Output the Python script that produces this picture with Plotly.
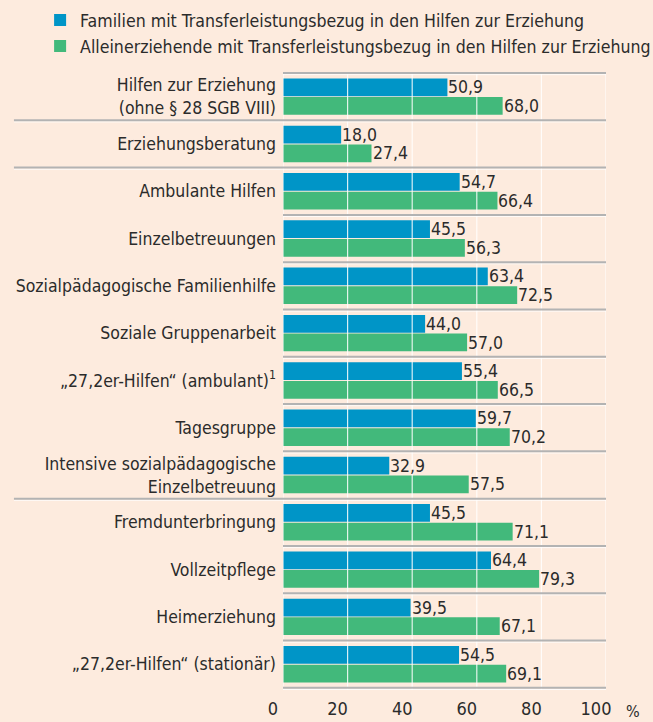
import plotly.graph_objects as go

# ── Data ───────────────────────────────────────────────────────────────
categories = [
    "Hilfen zur Erziehung<br>(ohne § 28 SGB VIII)",
    "Erziehungsberatung",
    "Ambulante Hilfen",
    "Einzelbetreuungen",
    "Sozialpädagogische Familienhilfe",
    "Soziale Gruppenarbeit",
    "„27,2er-Hilfen“ (ambulant)<sup>1</sup>",
    "Tagesgruppe",
    "Intensive sozialpädagogische<br>Einzelbetreuung",
    "Fremdunterbringung",
    "Vollzeitpflege",
    "Heimerziehung",
    "„27,2er-Hilfen“ (stationär)",
]
familien = [50.9, 18.0, 54.7, 45.5, 63.4, 44.0, 55.4, 59.7, 32.9, 45.5, 64.4, 39.5, 54.5]
alleinerziehende = [68.0, 27.4, 66.4, 56.3, 72.5, 57.0, 66.5, 70.2, 57.5, 71.1, 79.3, 67.1, 69.1]
series_names = [
    "Familien mit Transferleistungsbezug in den Hilfen zur Erziehung",
    "Alleinerziehende mit Transferleistungsbezug in den Hilfen zur Erziehung",
]
x_ticks = [0, 20, 40, 60, 80, 100]
# rows after which a full-width separator is drawn
major_breaks = [0, 1, 8]

BLUE = "#0095c7"
GREEN = "#42b97b"
BG = "#fdebde"
TEXT = "#2b2b2b"
SEP = "#b3b3b3"
FONT = "DejaVu Sans Condensed"


def de(v):
    return f"{v:.1f}".replace(".", ",")


fig = go.Figure()
series = [(series_names[0], familien, BLUE), (series_names[1], alleinerziehende, GREEN)]
for k, (name, vals, col) in enumerate(series):
    fig.add_trace(go.Bar(
        y=categories,
        x=vals,
        name=name,
        legendgroup=f"g{k}",
        orientation="h",
        marker=dict(color=col, line=dict(width=0)),
        hovertemplate="%{x:.1f}<extra></extra>",
    ))

# value labels as annotations so they sit above the white grid lines
annotations = []
for k, (name, vals, col) in enumerate(series):
    for cat, v in zip(categories, vals):
        annotations.append(dict(
            x=v, y=cat, xref="x", yref="y", text=de(v), showarrow=False,
            xanchor="left", yanchor="middle", xshift=-1,
            yshift=9.4 if k == 0 else -9.4,
            font=dict(family=FONT, size=17.5, color=TEXT),
        ))
annotations.append(dict(
    text="%", xref="paper", yref="paper", x=1.085, y=-0.035,
    xanchor="center", yanchor="middle", showarrow=False,
    font=dict(family=FONT, size=16, color=TEXT),
))

# ── Grid over the bars, then row separators ────────────────────────────
shapes = []
for t in x_ticks:
    shapes.append(dict(
        type="line", xref="x", yref="paper", x0=t, x1=t, y0=0, y1=1,
        line=dict(color="rgba(255,255,255,0.85)", width=1.2), layer="above",
    ))

n = len(categories)
for i in range(-1, n):
    y = i + 0.5
    x0 = -0.833 if i in major_breaks else 0
    shapes.append(dict(
        type="line", xref="paper", yref="y", x0=x0, x1=1, y0=y + 0.035, y1=y + 0.035,
        line=dict(color="rgba(255,255,255,0.8)", width=1), layer="above",
    ))
    shapes.append(dict(
        type="line", xref="paper", yref="y", x0=x0, x1=1, y0=y, y1=y,
        line=dict(color=SEP, width=2), layer="above",
    ))

fig.update_layout(
    width=653, height=722,
    paper_bgcolor=BG, plot_bgcolor=BG,
    margin=dict(l=283, r=47, t=72, b=32, autoexpand=False),
    barmode="group",
    bargap=0.21,
    bargroupgap=0.05,
    font=dict(family=FONT, size=17, color=TEXT),
    shapes=shapes,
    annotations=annotations,
    showlegend=True,
    legend=dict(
        x=-0.752, y=1.113, xanchor="left", yanchor="top",
        font=dict(family=FONT, size=17.6, color=TEXT),
        bgcolor="rgba(0,0,0,0)",
        traceorder="normal",
        itemwidth=30,
        tracegroupgap=4,
    ),
    xaxis=dict(
        range=[0, 100],
        tickvals=x_ticks,
        ticktext=[str(t) for t in x_ticks],
        showgrid=False,
        zeroline=False, showline=False,
        ticks="",
        ticklabelshift=-10,
        ticklabelstandoff=6,
        tickfont=dict(family=FONT, size=18, color=TEXT),
        fixedrange=True,
    ),
    yaxis=dict(
        categoryorder="array", categoryarray=categories,
        autorange="reversed",
        showgrid=False, zeroline=False, showline=False,
        ticks="", ticklabelstandoff=6,
        tickfont=dict(family=FONT, size=17.5, color=TEXT),
        fixedrange=True,
    ),
)

fig.write_html(
    "out.html",
    config={"displayModeBar": False},
    post_script="document.body.style.margin='0';document.body.style.overflow='hidden';",
)
